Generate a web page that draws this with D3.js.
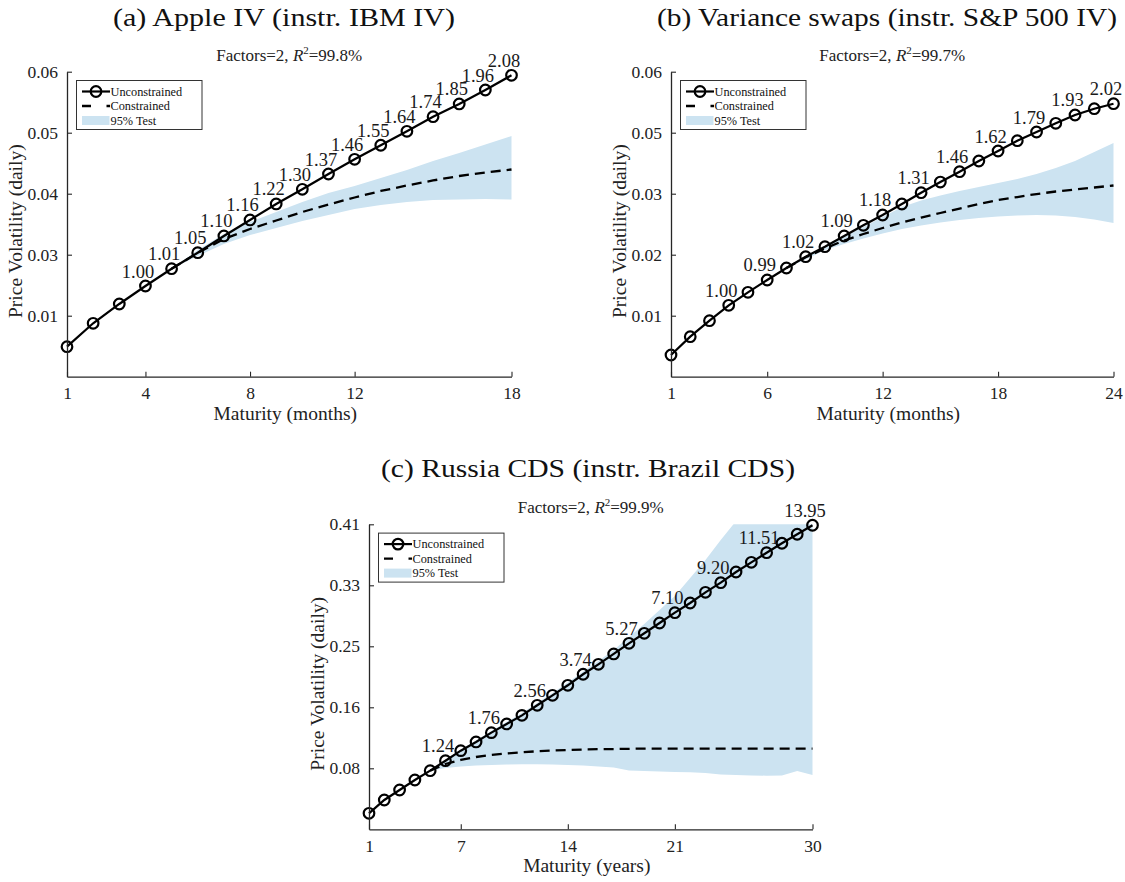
<!DOCTYPE html>
<html><head><meta charset="utf-8">
<script src="https://cdn.jsdelivr.net/npm/d3@7/dist/d3.min.js"></script>
<style>
body{margin:0;background:#fff}
svg text{font-family:"Liberation Serif","Times New Roman",serif}
</style>
</head><body>
<svg id="fig" width="1125" height="882"></svg>
<script>
// ---------------- Panel (a) Apple IV ----------------
const aMaturity = [1,2,3,4,5,6,7,8,9,10,11,12,13,14,15,16,17,18];
const aUnconstrained = [0.00861,0.01298,0.01659,0.01995,0.02318,0.02617,0.02930,0.03229,0.03528,0.03802,0.04088,0.04363,0.04625,0.04886,0.05159,0.05397,0.05658,0.05933];
const aConstrained = [null,null,null,null,0.02318,0.02612,0.02873,0.03060,0.03219,0.03378,0.03518,0.03649,0.03771,0.03873,0.03967,0.04051,0.04116,0.04172];
const aBandLow  = [null,null,null,null,0.02318,0.02556,0.02780,0.02948,0.03079,0.03210,0.03322,0.03434,0.03509,0.03565,0.03602,0.03612,0.03621,0.03612];
const aBandHigh = [null,null,null,null,0.02318,0.02668,0.02967,0.03191,0.03378,0.03565,0.03733,0.03864,0.04013,0.04163,0.04331,0.04481,0.04640,0.04798];
const aRatioAt = [4,5,6,7,8,9,10,11,12,13,14,15,16,17,18];
const aRatio = ["1.00","1.01","1.05","1.10","1.16","1.22","1.30","1.37","1.46","1.55","1.64","1.74","1.85","1.96","2.08"];
const aYDomain = [0.003,0.060];
const aYTicks = [0.0144,0.0258,0.0372,0.0486,0.0600];
const aYTickLabels = ["0.01","0.03","0.04","0.05","0.06"];
const aXTicks = [1,4,8,12,18];

// ---------------- Panel (b) Variance swaps ----------------
const bMaturity = [1,2,3,4,5,6,7,8,9,10,11,12,13,14,15,16,17,18,19,20,21,22,23,24];
const bUnconstrained = [0.00413,0.00761,0.01065,0.01358,0.01605,0.01839,0.02067,0.02282,0.02472,0.02676,0.02879,0.03075,0.03284,0.03499,0.03702,0.03898,0.04102,0.04292,0.04488,0.04653,0.04819,0.04977,0.05096,0.05191];
const bConstrained = [null,null,null,null,null,null,0.02067,0.02270,0.02440,0.02590,0.02714,0.02828,0.02932,0.03027,0.03113,0.03198,0.03284,0.03360,0.03417,0.03474,0.03522,0.03560,0.03598,0.03636];
const bBandLow  = [null,null,null,null,null,null,0.02067,0.02230,0.02409,0.02523,0.02628,0.02723,0.02809,0.02875,0.02932,0.02980,0.03018,0.03046,0.03065,0.03075,0.03065,0.03037,0.02989,0.02923];
const bBandHigh = [null,null,null,null,null,null,0.02067,0.02300,0.02476,0.02666,0.02847,0.03037,0.03227,0.03351,0.03446,0.03531,0.03607,0.03683,0.03759,0.03855,0.03969,0.04102,0.04273,0.04444];
const bRatioAt = [4,6,8,10,12,14,16,18,20,22,24];
const bRatio = ["1.00","0.99","1.02","1.09","1.18","1.31","1.46","1.62","1.79","1.93","2.02"];
const bYDomain = [0,0.058];
const bYTicks = [0.0116,0.0232,0.0348,0.0464,0.0580];
const bYTickLabels = ["0.01","0.02","0.03","0.05","0.06"];
const bXTicks = [1,6,12,18,24];

// ---------------- Panel (c) Russia CDS ----------------
const cMaturity = [1,2,3,4,5,6,7,8,9,10,11,12,13,14,15,16,17,18,19,20,21,22,23,24,25,26,27,28,29,30];
const cUnconstrained = [0.0215,0.0394,0.0528,0.0663,0.0788,0.0922,0.1057,0.1174,0.1299,0.1416,0.1532,0.1667,0.1801,0.1936,0.2084,0.2218,0.2357,0.2500,0.2635,0.2773,0.2912,0.3042,0.3186,0.3315,0.3459,0.3589,0.3718,0.3845,0.3966,0.4087];
const cConstrained = [null,null,null,null,0.0788,0.0878,0.0932,0.0972,0.0999,0.1019,0.1035,0.1049,0.1059,0.1066,0.1073,0.1077,0.1079,0.1082,0.1085,0.1085,0.1085,0.1085,0.1085,0.1085,0.1085,0.1085,0.1085,0.1085,0.1085,0.1085];
const cBandLow  = [null,null,null,null,0.0788,0.0824,0.0844,0.0858,0.0864,0.0871,0.0874,0.0874,0.0871,0.0864,0.0858,0.0844,0.0831,0.0790,0.0784,0.0777,0.0770,0.0766,0.0757,0.0737,0.0730,0.0723,0.0721,0.0723,0.0784,0.0730];
const cBandHigh = [null,null,null,null,0.0788,0.0932,0.1073,0.1194,0.1321,0.1442,0.1563,0.1698,0.1832,0.1973,0.2121,0.2262,0.2410,0.2585,0.2760,0.2948,0.3136,0.3378,0.3620,0.3889,0.4144,0.44,0.47,0.50,0.53,0.56];
const cRatioAt = [6,9,12,15,18,21,24,27,30];
const cRatio = ["1.24","1.76","2.56","3.74","5.27","7.10","9.20","11.51","13.95"];
const cYDomain = [0,0.41];
const cYTicks = [0.082,0.164,0.246,0.328,0.410];
const cYTickLabels = ["0.08","0.16","0.25","0.33","0.41"];
const cXTicks = [1,7,14,21,30];

const legendLabels = ["Unconstrained","Constrained","95% Test"];

const panels = [
  {key:"a", title:"(a) Apple IV (instr. IBM IV)", r2:"99.8%", xLabel:"Maturity (months)",
   m:aMaturity, unc:aUnconstrained, con:aConstrained, lo:aBandLow, hi:aBandHigh,
   ratioAt:aRatioAt, ratio:aRatio, yDomain:aYDomain, yTicks:aYTicks, yTickLabels:aYTickLabels, xTicks:aXTicks,
   L:67, R:511.5, T:71.7, B:376.7, titleX:284, titleY:26, titleW:342},
  {key:"b", title:"(b) Variance swaps (instr. S&P 500 IV)", r2:"99.7%", xLabel:"Maturity (months)",
   m:bMaturity, unc:bUnconstrained, con:bConstrained, lo:bBandLow, hi:bBandHigh,
   ratioAt:bRatioAt, ratio:bRatio, yDomain:bYDomain, yTicks:bYTicks, yTickLabels:bYTickLabels, xTicks:bXTicks,
   L:671, R:1113.5, T:71.7, B:376.7, titleX:887, titleY:26, titleW:460},
  {key:"c", title:"(c) Russia CDS (instr. Brazil CDS)", r2:"99.9%", xLabel:"Maturity (years)",
   m:cMaturity, unc:cUnconstrained, con:cConstrained, lo:cBandLow, hi:cBandHigh,
   ratioAt:cRatioAt, ratio:cRatio, yDomain:cYDomain, yTicks:cYTicks, yTickLabels:cYTickLabels, xTicks:cXTicks,
   L:369, R:812.5, T:524.3, B:829.3, titleX:588, titleY:477, titleW:414}
];

const FONT = "'Liberation Serif','Times New Roman',serif";
const svg = d3.select("#fig");
svg.append("rect").attr("width",1125).attr("height",882).attr("fill","#fff");
const BAND = "#cce3f1", AX = "#262626";

panels.forEach(p => {
  const x = d3.scaleLinear().domain([p.m[0], p.m[p.m.length-1]]).range([p.L, p.R]);
  const y = d3.scaleLinear().domain(p.yDomain).range([p.B, p.T]);
  const g = svg.append("g").style("font-family", FONT);
  const rows = p.m.map((v,i) => ({m:v, u:p.unc[i], c:p.con[i], lo:p.lo[i], hi:p.hi[i]}));

  svg.append("clipPath").attr("id","clip-"+p.key)
    .append("rect").attr("x",p.L).attr("y",p.T).attr("width",p.R-p.L+1).attr("height",p.B-p.T);

  // band
  const area = d3.area().defined(d => d.lo != null)
    .x(d => x(d.m)).y0(d => y(d.lo)).y1(d => y(d.hi));
  g.append("path").datum(rows).attr("d", area)
    .attr("fill", BAND).attr("stroke","none").attr("clip-path","url(#clip-"+p.key+")");

  // constrained
  const cline = d3.line().defined(d => d.c != null).x(d => x(d.m)).y(d => y(d.c));
  g.append("path").datum(rows).attr("d", cline)
    .attr("fill","none").attr("stroke","#000").attr("stroke-width",2.3)
    .attr("stroke-dasharray","10,6");

  // unconstrained
  const uline = d3.line().x(d => x(d.m)).y(d => y(d.u));
  g.append("path").datum(rows).attr("d", uline)
    .attr("fill","none").attr("stroke","#000").attr("stroke-width",2.2);
  g.selectAll("circle.pt").data(rows).join("circle").attr("class","pt")
    .attr("cx", d => x(d.m)).attr("cy", d => y(d.u)).attr("r",5.3)
    .attr("fill","none").attr("stroke","#000").attr("stroke-width",2.2);

  // ratio labels
  g.selectAll("text.ratio").data(p.ratioAt).join("text").attr("class","ratio")
    .attr("x", mm => x(mm) - 7.5)
    .attr("y", mm => y(p.unc[p.m.indexOf(mm)]) - 8.5)
    .attr("text-anchor","middle").style("font-size","18.5px").style("font-family",FONT)
    .attr("fill","#1a1a1a")
    .text((mm,i) => p.ratio[i]);

  // axes
  const yAxis = d3.axisLeft(y).tickValues(p.yTicks)
    .tickFormat((d,i) => p.yTickLabels[i]).tickSizeInner(-5).tickSizeOuter(0).tickPadding(9);
  const xAxis = d3.axisBottom(x).tickValues(p.xTicks)
    .tickFormat(d3.format("d")).tickSizeInner(-5).tickSizeOuter(0).tickPadding(10);
  const ya = g.append("g").attr("transform",`translate(${p.L},0)`).call(yAxis);
  const xa = g.append("g").attr("transform",`translate(0,${p.B})`).call(xAxis);
  [ya,xa].forEach(a => {
    a.attr("font-family",null).attr("font-size",null);
    a.select(".domain").attr("stroke",AX).attr("stroke-width",1.3);
    a.selectAll(".tick line").attr("stroke",AX).attr("stroke-width",1.1);
    a.selectAll(".tick text").style("font-family",FONT)
      .style("font-size","17.5px").attr("fill","#222");
  });

  // axis labels
  g.append("text").attr("x",(p.L+p.R)/2 - 4).attr("y",p.B+43)
    .attr("text-anchor","middle").style("font-size","19.5px").attr("fill","#222").text(p.xLabel);
  g.append("text")
    .attr("transform",`translate(${p.L-45},${(p.T+p.B)/2+7}) rotate(-90)`)
    .attr("text-anchor","middle").style("font-size","19.5px").attr("fill","#222")
    .text("Price Volatility (daily)");

  // subtitle
  const st = g.append("text").attr("x",(p.L+p.R)/2).attr("y",p.T-11)
    .attr("text-anchor","middle").style("font-size","17px").attr("fill","#222");
  st.append("tspan").text("Factors=2, ");
  st.append("tspan").attr("font-style","italic").text("R");
  st.append("tspan").attr("dy",-7).style("font-size","11px").text("2");
  st.append("tspan").attr("dy",7).text("=" + p.r2);

  // title
  g.append("text").attr("x",p.titleX).attr("y",p.titleY)
    .attr("text-anchor","middle").style("font-size","26px").attr("fill","#111")
    .attr("textLength",p.titleW).attr("lengthAdjust","spacingAndGlyphs")
    .text(p.title);

  // legend
  const lx = p.L + 9.5, ly = p.T + 8.8;
  const lg = g.append("g").attr("transform",`translate(${lx},${ly})`);
  lg.append("rect").attr("width",125.5).attr("height",49).attr("fill","#fff")
    .attr("stroke","#333").attr("stroke-width",1);
  const rowY = [11, 25.5, 40];
  lg.append("line").attr("x1",5.5).attr("x2",33.5).attr("y1",rowY[0]).attr("y2",rowY[0])
    .attr("stroke","#000").attr("stroke-width",2.2);
  lg.append("circle").attr("cx",19.5).attr("cy",rowY[0]).attr("r",5.3)
    .attr("fill","none").attr("stroke","#000").attr("stroke-width",2.2);
  lg.append("line").attr("x1",5.5).attr("x2",33.5).attr("y1",rowY[1]).attr("y2",rowY[1])
    .attr("stroke","#000").attr("stroke-width",2.3).attr("stroke-dasharray","9,15.5,4");
  lg.append("rect").attr("x",5.5).attr("y",rowY[2]-4.5).attr("width",27.5).attr("height",9)
    .attr("fill",BAND);
  lg.selectAll("text.leg").data(legendLabels).join("text").attr("class","leg")
    .attr("x",34).attr("y",(d,i) => rowY[i] + 4.2)
    .style("font-size","12.3px").attr("fill","#111").text(d => d);
});
</script>
</body></html>
